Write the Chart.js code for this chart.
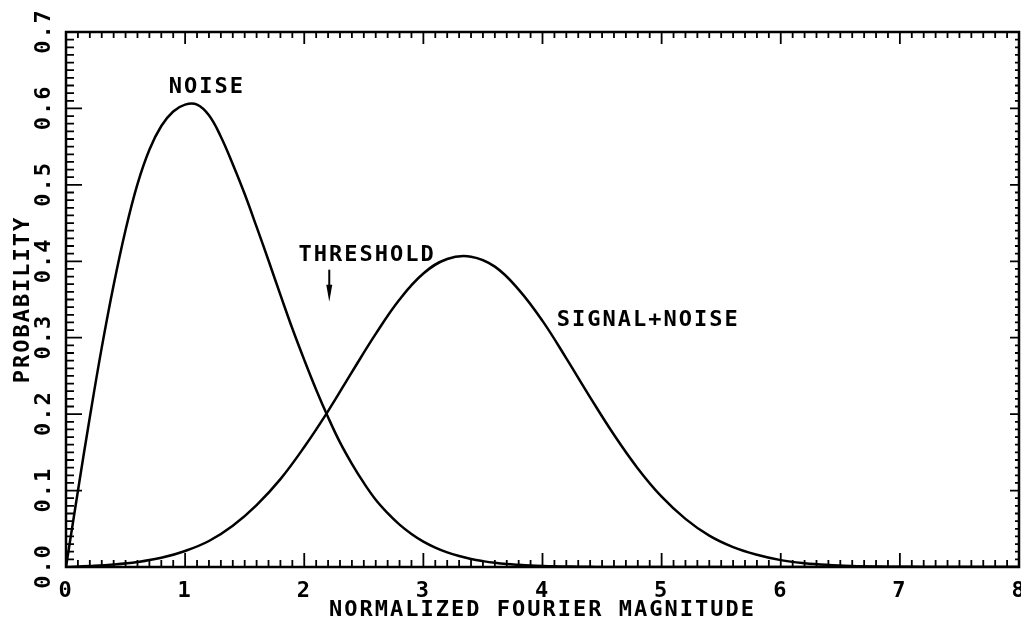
<!DOCTYPE html>
<html><head><meta charset="utf-8">
<script src="https://cdn.jsdelivr.net/npm/chart.js@4/dist/chart.umd.min.js"></script>
<style>
html,body{margin:0;padding:0;background:#fff;overflow:hidden;width:1021px;height:633px}
#wrap{position:absolute;left:0;top:0;width:1040px;height:633px}
canvas{display:block}
</style>
</head><body><div id="wrap"><canvas id="c" width="1040" height="633"></canvas></div>
<script>
// ---- data ----
const noiseX = [0,0.1,0.2,0.3,0.4,0.5,0.6,0.7,0.8,0.9,1.0,1.1,1.2,1.3,1.4,1.5,1.6,1.7,1.8,1.9,2.0,2.1,2.2,2.3,2.4,2.5,2.6,2.7,2.8,2.9,3.0,3.1,3.2,3.3,3.4,3.5,3.6,3.7,3.8,3.9,4.0,4.1,4.2,4.3,4.4,4.5,4.6,8.0];
const noise = [0,0.0995,0.196,0.287,0.369,0.441,0.501,0.546,0.577,0.596,0.605,0.605,0.591,0.563,0.527,0.488,0.445,0.401,0.356,0.312,0.271,0.232,0.196,0.163,0.135,0.110,0.088,0.0705,0.0555,0.0433,0.0333,0.0254,0.0191,0.0143,0.0105,0.0077,0.0055,0.0039,0.0028,0.0019,0.0013,0.0009,0.0006,0.0004,0.0002,0.0001,0,0];
const signalX = [0,0.2,0.4,0.6,0.8,1.0,1.2,1.4,1.6,1.8,2.0,2.2,2.4,2.6,2.8,3.0,3.2,3.4,3.6,3.8,4.0,4.2,4.4,4.6,4.8,5.0,5.2,5.4,5.6,5.8,6.0,6.2,6.4,6.6,6.8,7.0,7.2,7.4,7.6,7.8,8.0];
const signalNoise = [0,0.0013,0.0032,0.0065,0.012,0.021,0.034,0.054,0.081,0.115,0.157,0.204,0.255,0.305,0.350,0.384,0.403,0.406,0.393,0.363,0.322,0.273,0.222,0.173,0.129,0.092,0.063,0.041,0.026,0.016,0.009,0.005,0.0027,0.0014,0.0007,0.0003,0.0001,0,0,0,0];
const xTickLabels = ['0','1','2','3','4','5','6','7','8'];
const yTickValues = [0,0.1,0.2,0.3,0.4,0.5,0.6,0.7];
const yTickLabels = ['0.0','0.1','0.2','0.3','0.4','0.5','0.6','0.7'];
const xTitle = 'NORMALIZED FOURIER MAGNITUDE';
const yTitle = 'PROBABILITY';
const labelTexts = ['NOISE','THRESHOLD','SIGNAL+NOISE'];
const labelX = [1.175, 2.52, 4.88];
const labelY = [0.628, 0.408, 0.323];
const thresholdX = 2.21;
const thresholdArrowY = [0.389, 0.347];

const FONT = "'DejaVu Sans Mono', monospace";
const SPACING = '2px';
const FSIZE = 22;

const framePlugin = {
  id: 'frame',
  beforeDraw(chart) { chart.ctx.letterSpacing = SPACING; },
  afterDatasetsDraw(chart) {
    const ctx = chart.ctx, xs = chart.scales.x, ys = chart.scales.y;
    const L = xs.left, R = xs.right, T = ys.top, B = ys.bottom;
    ctx.save();
    ctx.strokeStyle = '#000';
    ctx.lineWidth = 2.5;
    ctx.strokeRect(L, T, R - L, B - T);
    ctx.lineWidth = 1.8;
    ctx.beginPath();
    for (let i = 0; i <= 80; i++) {
      const px = xs.getPixelForValue(i / 10);
      const maj = i % 10 === 0;
      ctx.moveTo(px, B); ctx.lineTo(px, B - (maj ? 14 : 7));
      ctx.moveTo(px, T); ctx.lineTo(px, T + (maj ? 12 : 6));
    }
    for (let j = 0; j <= 70; j++) {
      const py = ys.getPixelForValue(j / 100);
      const maj = j % 10 === 0;
      ctx.moveTo(L, py); ctx.lineTo(L + (maj ? 16 : 8), py);
      ctx.moveTo(R, py); ctx.lineTo(R - (maj ? 9 : 4), py);
    }
    ctx.stroke();
    ctx.fillStyle = '#000';
    ctx.font = 'bold ' + FSIZE + 'px ' + FONT;
    ctx.letterSpacing = SPACING;
    ctx.textAlign = 'center';
    ctx.textBaseline = 'middle';
    yTickValues.forEach((v, k) => {
      const py = ys.getPixelForValue(v);
      ctx.save();
      ctx.translate(44, py);
      ctx.rotate(-Math.PI / 2);
      ctx.fillText(yTickLabels[k], 1, 0);
      ctx.restore();
    });
    labelTexts.forEach((t, k) => {
      ctx.fillText(t, xs.getPixelForValue(labelX[k]) + 1, ys.getPixelForValue(labelY[k]));
    });
    const ax = xs.getPixelForValue(thresholdX);
    const ay1 = ys.getPixelForValue(thresholdArrowY[0]);
    const ay2 = ys.getPixelForValue(thresholdArrowY[1]);
    ctx.lineWidth = 2;
    ctx.beginPath();
    ctx.moveTo(ax, ay1); ctx.lineTo(ax, ay2 - 8);
    ctx.stroke();
    ctx.beginPath();
    ctx.moveTo(ax - 3, ay2 - 17); ctx.lineTo(ax + 3, ay2 - 17); ctx.lineTo(ax, ay2); ctx.closePath();
    ctx.fill();
    ctx.restore();
  }
};

const boldFont = { family: FONT, size: FSIZE, weight: 'bold' };

new Chart(document.getElementById('c'), {
  type: 'line',
  data: {
    datasets: [
      { label: 'NOISE', data: noiseX.map((x, i) => ({ x, y: noise[i] })), borderColor: '#000', borderWidth: 2.5, pointRadius: 0, tension: 0.4, fill: false },
      { label: 'SIGNAL+NOISE', data: signalX.map((x, i) => ({ x, y: signalNoise[i] })), borderColor: '#000', borderWidth: 2.5, pointRadius: 0, tension: 0.4, fill: false }
    ]
  },
  options: {
    responsive: false,
    animation: false,
    devicePixelRatio: 1,
    layout: { padding: { top: 32, right: 21, left: 0, bottom: 0 } },
    plugins: { legend: { display: false }, tooltip: { enabled: false } },
    scales: {
      x: {
        type: 'linear', min: 0, max: 8,
        ticks: { stepSize: 1, color: '#000', font: boldFont, padding: 11, maxRotation: 0,
          callback: (v) => xTickLabels[v] },
        grid: { display: false, drawTicks: false },
        border: { display: false },
        title: { display: true, text: xTitle, color: '#000', font: boldFont, padding: { top: 0, bottom: 10 } },
        afterFit: (s) => { s.height = 66; }
      },
      y: {
        type: 'linear', min: 0, max: 0.7,
        ticks: { display: false, stepSize: 0.1 },
        grid: { display: false, drawTicks: false },
        border: { display: false },
        title: { display: true, text: yTitle, color: '#000', font: boldFont, padding: { top: 10, bottom: 0 } },
        afterFit: (s) => { s.width = 66; }
      }
    }
  },
  plugins: [framePlugin]
});
</script>
</body></html>
